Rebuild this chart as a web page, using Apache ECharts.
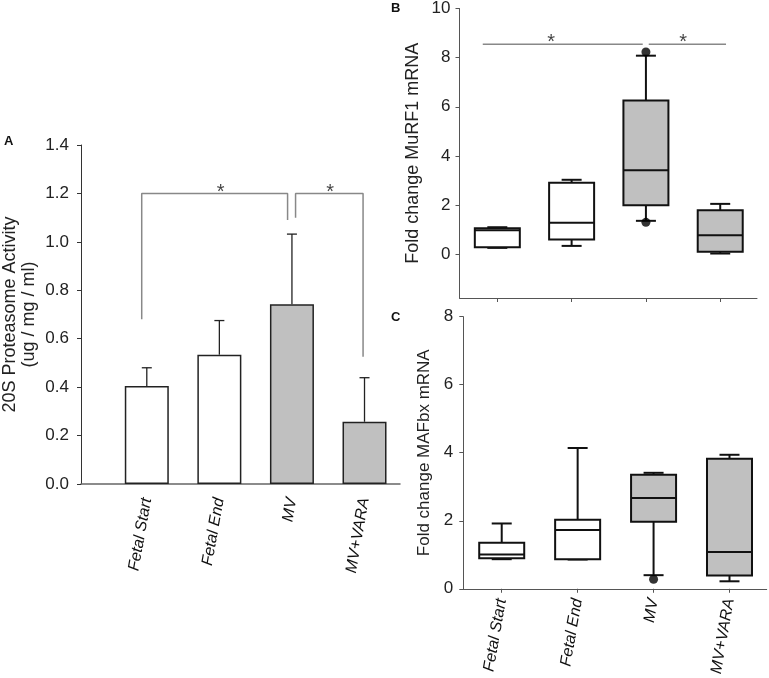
<!DOCTYPE html>
<html><head><meta charset="utf-8">
<script src="https://cdn.jsdelivr.net/npm/echarts@6/dist/echarts.min.js"></script>
<style>html,body{margin:0;padding:0;background:#fff}#c{width:769px;height:678px}</style>
</head><body><div id="c"></div>
<script>
// ---------- data ----------
const categories = ['Fetal Start', 'Fetal End', 'MV', 'MV+VARA'];
const categoryPos = [1, 2, 3, 4];

// Panel A: 20S proteasome activity, mean and upper error
const activityMean = [0.405, 0.534, 0.742, 0.257];
const activityErr = [0.075, 0.141, 0.290, 0.182];
const activityTicks = [0, 0.2, 0.4, 0.6, 0.8, 1.0, 1.2, 1.4];

// Panel B: MuRF1 fold change  [min, q1, median, q3, max]
const murf1Min = [0.26, 0.34, 1.36, 0.03];
const murf1Q1 = [0.29, 0.60, 1.99, 0.10];
const murf1Median = [0.98, 1.28, 3.42, 0.77];
const murf1Q3 = [1.06, 2.91, 6.26, 1.79];
const murf1Max = [1.10, 3.03, 8.08, 2.05];
const murf1OutlierPos = [3, 3];
const murf1OutlierVal = [8.23, 1.30];
const murf1Ticks = [0, 2, 4, 6, 8, 10];

// Panel C: MAFbx fold change
const mafbxMin = [0.87, 0.86, 0.40, 0.22];
const mafbxQ1 = [0.90, 0.87, 1.97, 0.39];
const mafbxMedian = [1.01, 1.73, 2.67, 1.08];
const mafbxQ3 = [1.35, 2.03, 3.35, 3.82];
const mafbxMax = [1.92, 4.14, 3.41, 3.94];
const mafbxOutlierPos = [3];
const mafbxOutlierVal = [0.28];
const mafbxTicks = [0, 2, 4, 6, 8];

// significance annotations (data coordinates)
const sigA1 = [[0.93, 0.68], [0.93, 1.2], [2.94, 1.2], [2.94, 1.09]];
const sigA2 = [[3.05, 1.1], [3.05, 1.2], [3.98, 1.2], [3.98, 0.526]];
const sigAStars = [[2.016, 1.205], [3.527, 1.205]];
const sigB1 = [[0.804, 8.55], [2.957, 8.55]];
const sigB2 = [[3.038, 8.55], [4.078, 8.55]];
const sigBStars = [[1.723, 8.6], [3.5, 8.6]];

// ---------- styles ----------
const FONT = '"Liberation Sans", Arial, sans-serif';
const groupFill = ['#ffffff', '#ffffff', '#c0c0c0', '#c0c0c0'];
const AXIS_COLOR = '#555';

const chart = echarts.init(document.getElementById('c'), null, {renderer: 'canvas'});

function boxData(mn, q1, md, q3, mx) {
  return categoryPos.map((p, i) => [p, mn[i], q1[i], md[i], q3[i], mx[i]]);
}
function boxItem(params, api) {
  const x = api.value(0);
  const c = [1, 2, 3, 4, 5].map(k => api.coord([x, api.value(k)]));
  const cx = c[0][0];
  const hw = 22.5, cw = 10;
  const st = {stroke: '#111', lineWidth: 2, fill: null};
  return {
    type: 'group',
    children: [
      {type: 'line', shape: {x1: cx, y1: c[0][1], x2: cx, y2: c[1][1]}, style: st},
      {type: 'line', shape: {x1: cx, y1: c[3][1], x2: cx, y2: c[4][1]}, style: st},
      {type: 'line', shape: {x1: cx - cw, y1: c[0][1], x2: cx + cw, y2: c[0][1]}, style: st},
      {type: 'line', shape: {x1: cx - cw, y1: c[4][1], x2: cx + cw, y2: c[4][1]}, style: st},
      {type: 'rect', shape: {x: cx - hw, y: c[3][1], width: 2 * hw, height: c[1][1] - c[3][1]},
        style: {stroke: '#111', lineWidth: 2, fill: groupFill[Math.round(x) - 1]}},
      {type: 'line', shape: {x1: cx - hw, y1: c[2][1], x2: cx + hw, y2: c[2][1]}, style: st}
    ]
  };
}
function errItem(params, api) {
  const x = api.value(0), m = api.value(1), e = api.value(2);
  const p0 = api.coord([x, m]), p1 = api.coord([x, m + e]);
  const st = {stroke: '#222', lineWidth: 1.3};
  return {type: 'group', children: [
    {type: 'line', shape: {x1: p0[0], y1: p0[1], x2: p1[0], y2: p1[1]}, style: st},
    {type: 'line', shape: {x1: p1[0] - 5, y1: p1[1], x2: p1[0] + 5, y2: p1[1]}, style: st}
  ]};
}
const sigLine = (data, xi, yi) => ({
  type: 'line', xAxisIndex: xi, yAxisIndex: yi, data: data, symbol: 'none', silent: true,
  lineStyle: {color: '#888', width: 1.5}, z: 1
});
const starSeries = (data, xi, yi) => ({
  type: 'scatter', xAxisIndex: xi, yAxisIndex: yi, data: data, symbolSize: 1,
  itemStyle: {color: 'transparent'}, silent: true,
  label: {show: true, position: 'inside', formatter: '*', fontSize: 20, color: '#111', fontFamily: FONT}
});
const catLabel = (margin) => ({
  customValues: categoryPos, formatter: v => categories[Math.round(v) - 1],
  rotate: 80, margin: margin, fontStyle: 'italic', fontSize: 16, color: '#111', fontFamily: FONT
});
const yLabel = (margin, vals, fmt) => ({
  customValues: vals, margin: margin, fontSize: 17, color: '#222', fontFamily: FONT,
  formatter: fmt || (v => String(v))
});

const option = {
  animation: false,
  backgroundColor: '#fff',
  grid: [
    {left: 80, top: 145, width: 320, height: 339},
    {left: 459.5, top: 6.7, width: 297.5, height: 291.3},
    {left: 463.3, top: 316.7, width: 303.4, height: 274}
  ],
  xAxis: [
    {gridIndex: 0, type: 'value', min: 0.0934, max: 4.489,
      axisLine: {show: true, onZero: false, lineStyle: {color: '#666', width: 1.5}},
      axisTick: {show: false}, splitLine: {show: false}, axisLabel: catLabel(14)},
    {gridIndex: 1, type: 'value', min: 0.491, max: 4.495,
      axisLine: {show: true, onZero: false, lineStyle: {color: AXIS_COLOR, width: 1}},
      axisTick: {show: true, customValues: categoryPos, length: 4, inside: false, lineStyle: {color: AXIS_COLOR}},
      splitLine: {show: false}, axisLabel: {show: false}},
    {gridIndex: 2, type: 'value', min: 0.494, max: 4.49,
      axisLine: {show: true, onZero: false, lineStyle: {color: AXIS_COLOR, width: 1}},
      axisTick: {show: true, customValues: categoryPos, length: 4, inside: false, lineStyle: {color: AXIS_COLOR}},
      splitLine: {show: false}, axisLabel: catLabel(10)}
  ],
  yAxis: [
    {gridIndex: 0, type: 'value', min: 0, max: 1.4,
      axisLine: {show: true, onZero: false, lineStyle: {color: '#333', width: 1}},
      axisTick: {show: true, customValues: activityTicks, length: 4, lineStyle: {color: '#333'}},
      splitLine: {show: false},
      axisLabel: yLabel(12, activityTicks, v => v.toFixed(1)),
      name: '20S Proteasome Activity\n(ug / mg / ml)', nameLocation: 'middle', nameGap: 42,
      nameTextStyle: {fontSize: 18, lineHeight: 19, color: '#222', fontFamily: FONT}},
    {gridIndex: 1, type: 'value', min: -1.78, max: 10,
      axisLine: {show: true, onZero: false, lineStyle: {color: AXIS_COLOR, width: 1}},
      axisTick: {show: true, customValues: murf1Ticks, length: 4, lineStyle: {color: AXIS_COLOR}},
      splitLine: {show: false},
      axisLabel: yLabel(9, murf1Ticks),
      name: 'Fold change MuRF1 mRNA', nameLocation: 'middle', nameGap: 37,
      nameTextStyle: {fontSize: 18, color: '#222', fontFamily: FONT}},
    {gridIndex: 2, type: 'value', min: 0, max: 8,
      axisLine: {show: true, onZero: false, lineStyle: {color: AXIS_COLOR, width: 1}},
      axisTick: {show: true, customValues: mafbxTicks, length: 4, lineStyle: {color: AXIS_COLOR}},
      splitLine: {show: false},
      axisLabel: yLabel(10, mafbxTicks),
      name: 'Fold change MAFbx mRNA', nameLocation: 'middle', nameGap: 30,
      nameTextStyle: {fontSize: 17, color: '#222', fontFamily: FONT}}
  ],
  series: [
    // Panel A
    sigLine(sigA1, 0, 0),
    sigLine(sigA2, 0, 0),
    starSeries(sigAStars, 0, 0),
    {type: 'bar', xAxisIndex: 0, yAxisIndex: 0, barWidth: 44,
      data: categoryPos.map((p, i) => ({value: [p, activityMean[i]], itemStyle: {color: groupFill[i]}})),
      itemStyle: {borderColor: '#222', borderWidth: 1.5}, z: 2},
    {type: 'custom', xAxisIndex: 0, yAxisIndex: 0, renderItem: errItem,
      encode: {x: 0, y: [1, 2]},
      data: categoryPos.map((p, i) => [p, activityMean[i], activityErr[i]]), z: 3},
    // Panel B
    sigLine(sigB1, 1, 1),
    sigLine(sigB2, 1, 1),
    starSeries(sigBStars, 1, 1),
    {type: 'custom', xAxisIndex: 1, yAxisIndex: 1, renderItem: boxItem,
      encode: {x: 0, y: [1, 2, 3, 4, 5]},
      data: boxData(murf1Min, murf1Q1, murf1Median, murf1Q3, murf1Max), z: 3},
    {type: 'scatter', xAxisIndex: 1, yAxisIndex: 1, symbolSize: 9, itemStyle: {color: '#000'},
      data: murf1OutlierPos.map((p, i) => [p, murf1OutlierVal[i]]), z: 4},
    // Panel C
    {type: 'custom', xAxisIndex: 2, yAxisIndex: 2, renderItem: boxItem,
      encode: {x: 0, y: [1, 2, 3, 4, 5]},
      data: boxData(mafbxMin, mafbxQ1, mafbxMedian, mafbxQ3, mafbxMax), z: 3},
    {type: 'scatter', xAxisIndex: 2, yAxisIndex: 2, symbolSize: 9, itemStyle: {color: '#000'},
      data: mafbxOutlierPos.map((p, i) => [p, mafbxOutlierVal[i]]), z: 4}
  ],
  graphic: [
    {type: 'text', left: 4, top: 135, style: {text: 'A', font: 'bold 13px ' + FONT, fill: '#111'}},
    {type: 'text', left: 391, top: 2, style: {text: 'B', font: 'bold 13px ' + FONT, fill: '#111'}},
    {type: 'text', left: 391, top: 311, style: {text: 'C', font: 'bold 13px ' + FONT, fill: '#111'}}
  ]
};
chart.setOption(option);
</script>
</body></html>
